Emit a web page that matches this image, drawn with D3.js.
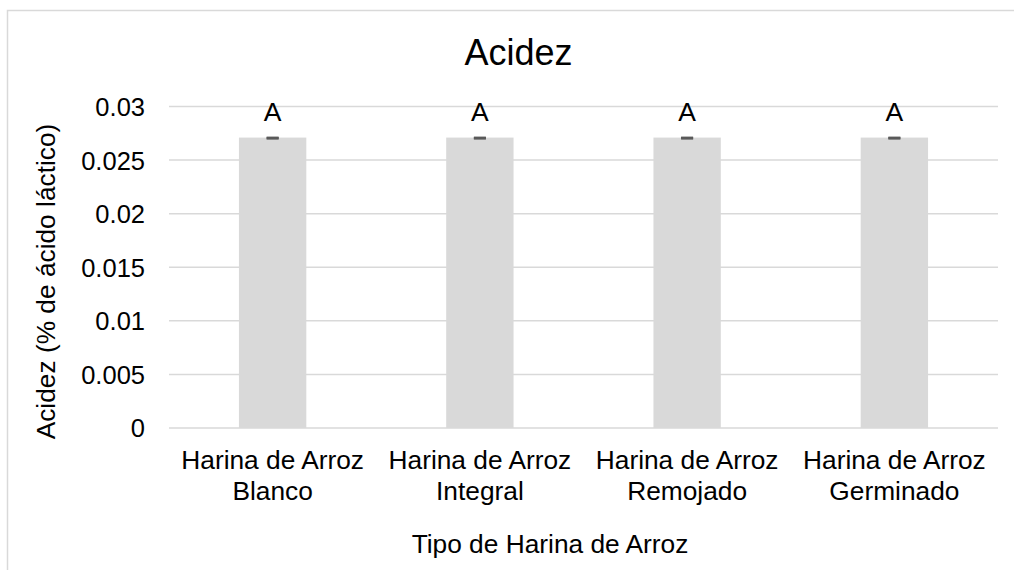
<!DOCTYPE html>
<html>
<head>
<meta charset="utf-8">
<script src="https://cdn.jsdelivr.net/npm/d3@7"></script>
<style>
  html, body { margin: 0; padding: 0; background: #fff; }
  svg { display: block; font-family: "Liberation Sans", Arial, sans-serif; }
</style>
</head>
<body>
<svg id="chart" width="1014" height="570"></svg>
<script>
const categories = [
  ["Harina de Arroz", "Blanco"],
  ["Harina de Arroz", "Integral"],
  ["Harina de Arroz", "Remojado"],
  ["Harina de Arroz", "Germinado"]
];
const values = [0.0271, 0.0271, 0.0271, 0.0271];
const errors = [0.00001, 0.00001, 0.00001, 0.00001];
const letters = ["A", "A", "A", "A"];
const yTicks = [0, 0.005, 0.01, 0.015, 0.02, 0.025, 0.03];
const yTickLabels = ["0", "0.005", "0.01", "0.015", "0.02", "0.025", "0.03"];
const titleText = "Acidez";
const xTitle = "Tipo de Harina de Arroz";
const yTitle = "Acidez (% de ácido láctico)";

const svg = d3.select("#chart");
const grid = "#d9d9d9";

// chart border (right/bottom edges fall outside the picture)
svg.append("rect")
  .attr("x", 7.5).attr("y", 10.5)
  .attr("width", 1030).attr("height", 600)
  .attr("fill", "none").attr("stroke", grid).attr("stroke-width", 1.5);

const plot = { left: 169, right: 998, top: 106.5, bottom: 428 };

const x = d3.scaleBand()
  .domain(d3.range(categories.length))
  .range([plot.left, plot.right])
  .paddingInner(0.675).paddingOuter(0.3375);

const y = d3.scaleLinear().domain([0, 0.03]).range([plot.bottom, plot.top]);

// gridlines
svg.append("g").selectAll("line").data(yTicks).join("line")
  .attr("x1", plot.left).attr("x2", plot.right)
  .attr("y1", d => y(d)).attr("y2", d => y(d))
  .attr("stroke", grid).attr("stroke-width", 1.5);

// y axis tick labels
const yAxis = d3.axisLeft(y).tickValues(yTicks)
  .tickFormat((d, i) => yTickLabels[i]).tickSize(0).tickPadding(0);
const yg = svg.append("g").attr("transform", `translate(145,0)`).call(yAxis);
yg.select(".domain").remove();
yg.selectAll("text")
  .attr("font-size", 25.5).attr("fill", "#000")
  .attr("font-family", "Liberation Sans, Arial, sans-serif")
  .attr("dy", "0.35em");

// bars
svg.append("g").selectAll("rect").data(values).join("rect")
  .attr("x", (d, i) => x(i))
  .attr("width", x.bandwidth())
  .attr("y", d => y(d))
  .attr("height", d => y(0) - y(d))
  .attr("fill", "#d9d9d9");

// error bars
const eb = svg.append("g").attr("stroke", "#595959").attr("stroke-width", 2.6);
values.forEach((v, i) => {
  const cx = x(i) + x.bandwidth() / 2;
  const y1 = y(v + errors[i]) + 0.5, y2 = y(v - errors[i]) + 0.5;
  eb.append("line").attr("x1", cx - 6).attr("x2", cx + 6).attr("y1", y1).attr("y2", y1);
  eb.append("line").attr("x1", cx - 6).attr("x2", cx + 6).attr("y1", y2).attr("y2", y2);
  eb.append("line").attr("x1", cx).attr("x2", cx).attr("y1", y1).attr("y2", y2);
});

// letter labels
svg.append("g").selectAll("text").data(letters).join("text")
  .attr("x", (d, i) => x(i) + x.bandwidth() / 2)
  .attr("y", 121)
  .attr("text-anchor", "middle")
  .attr("font-size", 26.5).attr("fill", "#000")
  .text(d => d);

// category labels
const xg = svg.append("g");
categories.forEach((lines, i) => {
  const t = xg.append("text")
    .attr("x", x(i) + x.bandwidth() / 2)
    .attr("y", 468.5)
    .attr("text-anchor", "middle")
    .attr("font-size", 26.3).attr("fill", "#000");
  lines.forEach((l, j) => {
    t.append("tspan").attr("x", x(i) + x.bandwidth() / 2)
      .attr("dy", j === 0 ? 0 : 31.5).text(l);
  });
});

// title
svg.append("text")
  .attr("x", 518.5).attr("y", 65)
  .attr("text-anchor", "middle")
  .attr("font-size", 36).attr("fill", "#000")
  .text(titleText);

// x axis title
svg.append("text")
  .attr("x", 550).attr("y", 553)
  .attr("text-anchor", "middle")
  .attr("font-size", 26.3).attr("fill", "#000")
  .text(xTitle);

// y axis title
svg.append("text")
  .attr("transform", "translate(55,281.5) rotate(-90)")
  .attr("text-anchor", "middle")
  .attr("font-size", 26.3).attr("fill", "#000")
  .text(yTitle);
</script>
</body>
</html>
